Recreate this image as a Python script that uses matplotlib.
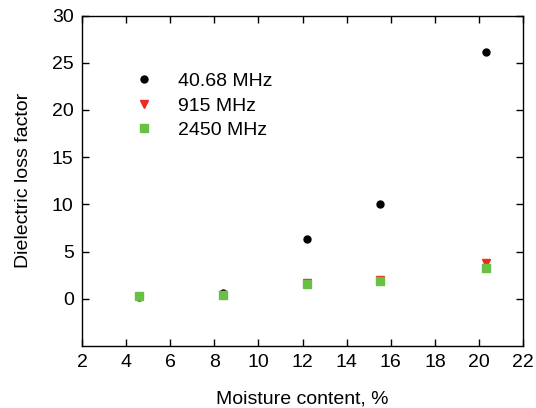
import matplotlib
matplotlib.use("Agg")
import matplotlib.pyplot as plt

moisture = [4.6, 8.4, 12.2, 15.5, 20.3]
loss_40 = [0.2, 0.6, 6.3, 10.0, 26.1]
loss_915 = [0.2, 0.4, 1.7, 2.0, 3.8]
loss_2450 = [0.3, 0.4, 1.6, 1.9, 3.3]

plt.rcParams['font.family'] = ['Liberation Sans', 'DejaVu Sans']
plt.rcParams['font.size'] = 14

fig, ax = plt.subplots(figsize=(5.36, 4.08), dpi=100)
fig.subplots_adjust(left=0.153, right=0.976, top=0.962, bottom=0.152)

ax.plot(moisture, loss_40, 'o', color='black', markersize=5, label='40.68 MHz')
ax.plot(moisture, loss_915, 'v', color='#ee2a24', markersize=6, label='915 MHz')
ax.plot(moisture, loss_2450, 's', color='#6abf45', markersize=6, label='2450 MHz')

ax.set_xlim(2, 22)
ax.set_ylim(-5, 30)
ax.set_xticks(range(2, 23, 2))
ax.set_yticks(range(0, 31, 5))
ax.tick_params(direction='in', top=True, right=True, length=5, width=1, pad=6)
for s in ax.spines.values():
    s.set_linewidth(1)

ax.set_xlabel('Moisture content, %', labelpad=14)
ax.set_ylabel('Dielectric loss factor', labelpad=14)

ax.legend(loc='upper left', bbox_to_anchor=(0.068, 0.88), frameon=False,
          handletextpad=1.0, labelspacing=0.35, handlelength=1.5)

fig.savefig('out.png', dpi=100)
